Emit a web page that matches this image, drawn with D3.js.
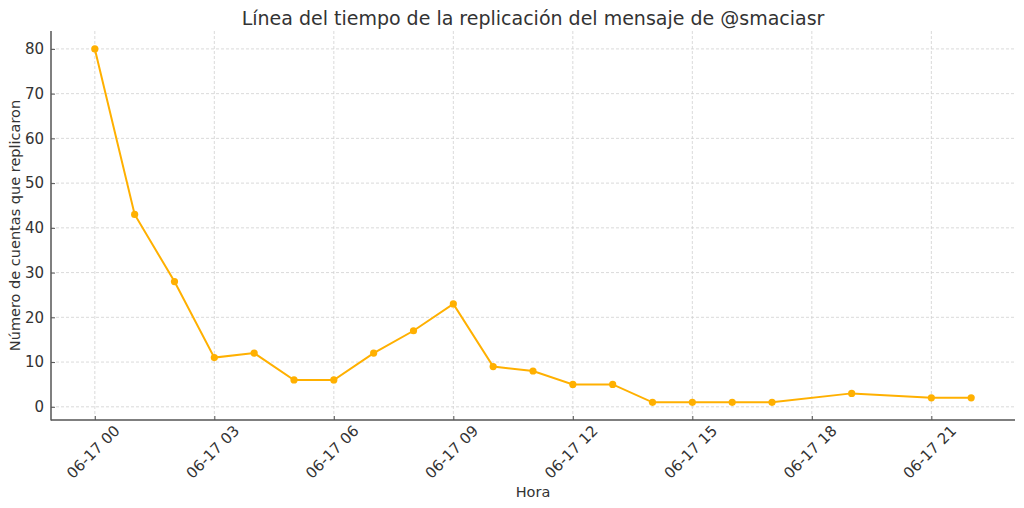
<!DOCTYPE html>
<html><head><meta charset="utf-8">
<script src="https://cdn.jsdelivr.net/npm/d3@7"></script>
<style>body{margin:0;background:#fff;} text{font-family:"DejaVu Sans",sans-serif;fill:#333;}</style>
</head><body>
<svg id="c" width="1024" height="508"></svg>
<script>
const hours = [0,1,2,3,4,5,6,7,8,9,10,11,12,13,14,15,16,17,19,21,22];
const counts = [80,43,28,11,12,6,6,12,17,23,9,8,5,5,1,1,1,1,3,2,2];
const yTicks = [0,10,20,30,40,50,60,70,80];
const xTickHours = [0,3,6,9,12,15,18,21];
const title = "Línea del tiempo de la replicación del mensaje de @smaciasr";
const xLabel = "Hora";
const yLabel = "Número de cuentas que replicaron";

const base = Date.UTC(2023,5,17,0);
const toDate = h => new Date(base + h*3600000);
const data = hours.map((h,i)=>({t:toDate(h), v:counts[i]}));

const L=51,R=1015,T=31,B=420;
const svg = d3.select("#c");
const x = d3.scaleUtc().domain([toDate(-1.1), toDate(23.1)]).range([L,R]);
const y = d3.scaleLinear().domain([-2.95,84]).range([B,T]);
const fmt = d3.utcFormat("%m-%d %H");
const color = "#ffb000";

// grid
const g = svg.append("g");
g.selectAll(".gx").data(xTickHours).enter().append("line")
  .attr("x1",d=>x(toDate(d))).attr("x2",d=>x(toDate(d))).attr("y1",T).attr("y2",B)
  .attr("stroke","#d0d0d0").attr("stroke-width",0.8).attr("stroke-dasharray","3,2");
g.selectAll(".gy").data(yTicks).enter().append("line")
  .attr("x1",L).attr("x2",R).attr("y1",d=>y(d)).attr("y2",d=>y(d))
  .attr("stroke","#d0d0d0").attr("stroke-width",0.8).attr("stroke-dasharray","3,2");

// axes
const xAxis = d3.axisBottom(x).tickValues(xTickHours.map(toDate)).tickFormat(fmt).tickSize(-4).tickPadding(0);
const ax = svg.append("g").attr("transform",`translate(0,${B})`).call(xAxis);
ax.select(".domain").remove();
ax.selectAll(".tick line").attr("stroke","#555").attr("stroke-width",1);
ax.selectAll(".tick text").attr("font-size",15).attr("fill","#333")
  .attr("text-anchor","middle").attr("dominant-baseline","central")
  .attr("dy",null).attr("y",null)
  .attr("transform","translate(-2,32) rotate(-45)");

const yAxis = d3.axisLeft(y).tickValues(yTicks).tickSize(-4).tickPadding(7);
const ay = svg.append("g").attr("transform",`translate(${L},0)`).call(yAxis);
ay.select(".domain").remove();
ay.selectAll(".tick line").attr("stroke","#555").attr("stroke-width",1);
ay.selectAll(".tick text").attr("font-size",15).attr("fill","#333");

// spines
svg.append("line").attr("x1",L).attr("x2",L).attr("y1",T).attr("y2",B+0.5).attr("stroke","#555").attr("stroke-width",1.5);
svg.append("line").attr("x1",L).attr("x2",R).attr("y1",B).attr("y2",B).attr("stroke","#555").attr("stroke-width",1.5);

// line
svg.append("path").datum(data)
  .attr("d", d3.line().x(d=>x(d.t)).y(d=>y(d.v)))
  .attr("fill","none").attr("stroke",color).attr("stroke-width",2);
svg.selectAll(".pt").data(data).enter().append("circle")
  .attr("cx",d=>x(d.t)).attr("cy",d=>y(d.v)).attr("r",3.6).attr("fill",color);

// labels
svg.append("text").attr("x",533).attr("y",25).attr("text-anchor","middle").attr("font-size",19).text(title);
svg.append("text").attr("x",533).attr("y",497).attr("text-anchor","middle").attr("font-size",14.5).text(xLabel);
svg.append("text").attr("transform",`translate(20,${(T+B)/2}) rotate(-90)`).attr("text-anchor","middle").attr("font-size",14.5).text(yLabel);
</script>
</body></html>
